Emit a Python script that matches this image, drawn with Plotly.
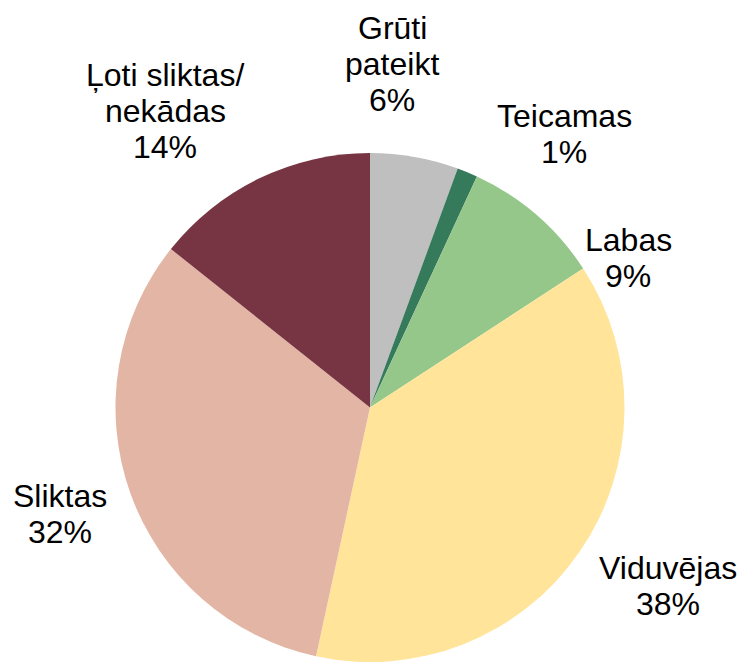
import plotly.graph_objects as go

# Data
categories = ['Grūti pateikt', 'Teicamas', 'Labas', 'Viduvējas', 'Sliktas', 'Ļoti sliktas/ nekādas']
shares = [5.6, 1.3, 8.9, 37.6, 32.3, 14.3]
colors = ['#BFBFBF', '#367A5C', '#95C78A', '#FFE499', '#E3B5A4', '#773443']

# How each label is broken into lines
label_lines = [['Grūti', 'pateikt'], ['Teicamas'], ['Labas'], ['Viduvējas'], ['Sliktas'], ['Ļoti sliktas/', 'nekādas']]

W, H = 742, 662

# Centre of the first text line of each label, and line pitch (pixels)
label_pos = [(392, 28), (564, 116), (628, 240), (668, 568), (60, 496), (165, 75)]
PITCH = 36

fig = go.Figure(
    go.Pie(
        labels=categories,
        values=shares,
        sort=False,
        direction='clockwise',
        rotation=0,
        marker=dict(colors=colors, line=dict(width=0)),
        textinfo='none',
        hoverinfo='label+percent',
        domain=dict(x=[115 / W, 625 / W], y=[0.0, (H - 153) / H]),
        showlegend=False,
    )
)

total = sum(shares)
for lines, val, (px, py) in zip(label_lines, shares, label_pos):
    rows = lines + [f'{round(val / total * 100)}%']
    for i, row in enumerate(rows):
        fig.add_annotation(
            x=px / W,
            y=1 - (py + i * PITCH) / H,
            xref='paper',
            yref='paper',
            text=row,
            showarrow=False,
            xanchor='center',
            yanchor='middle',
            font=dict(family='Liberation Sans, Arial', size=32, color='black'),
        )

fig.update_layout(
    width=W,
    height=H,
    margin=dict(l=0, r=0, t=0, b=0),
    paper_bgcolor='white',
    plot_bgcolor='white',
)

# Drop the default page margin so the figure fills the window exactly
fig.write_html(
    'out.html',
    config={'displayModeBar': False},
    post_script="document.body.style.margin='0';document.body.style.overflow='hidden';",
)
